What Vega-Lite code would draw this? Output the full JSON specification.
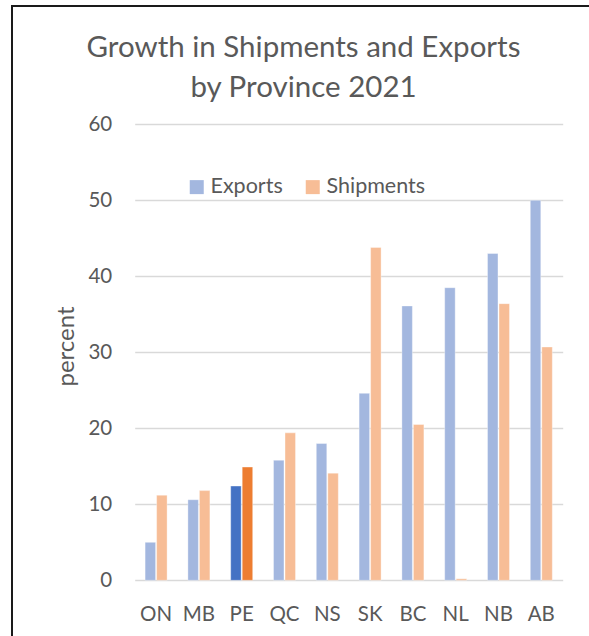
{
  "$schema": "https://vega.github.io/schema/vega-lite/v6.json",
  "autosize": {"type": "none"},
  "width": 583,
  "height": 640,
  "padding": {"left": 12, "top": 6, "right": -6, "bottom": -10},
  "background": "#ffffff",
  "config": {
    "font": "Lato",
    "view": {"stroke": "#1a1a1a", "strokeWidth": 2}
  },
  "title": {
    "text": ["Growth in Shipments and Exports", "by Province 2021"],
    "fontSize": 29.5,
    "fontWeight": "normal",
    "color": "#595959",
    "font": "Lato",
    "anchor": "middle",
    "frame": "group",
    "baseline": "top",
    "lineHeight": 40,
    "offset": -97
  },
  "data": {
    "values": [
      {"province": "ON", "series": "Exports", "value": 5.0},
      {"province": "ON", "series": "Shipments", "value": 11.2},
      {"province": "MB", "series": "Exports", "value": 10.6},
      {"province": "MB", "series": "Shipments", "value": 11.8},
      {"province": "PE", "series": "Exports", "value": 12.4},
      {"province": "PE", "series": "Shipments", "value": 14.9},
      {"province": "QC", "series": "Exports", "value": 15.8},
      {"province": "QC", "series": "Shipments", "value": 19.4},
      {"province": "NS", "series": "Exports", "value": 18.0},
      {"province": "NS", "series": "Shipments", "value": 14.1},
      {"province": "SK", "series": "Exports", "value": 24.6},
      {"province": "SK", "series": "Shipments", "value": 43.8},
      {"province": "BC", "series": "Exports", "value": 36.1},
      {"province": "BC", "series": "Shipments", "value": 20.5},
      {"province": "NL", "series": "Exports", "value": 38.5},
      {"province": "NL", "series": "Shipments", "value": 0.2},
      {"province": "NB", "series": "Exports", "value": 43.0},
      {"province": "NB", "series": "Shipments", "value": 36.4},
      {"province": "AB", "series": "Exports", "value": 50.0},
      {"province": "AB", "series": "Shipments", "value": 30.7}
    ]
  },
  "mark": {"type": "bar", "stroke": "#ffffff", "strokeWidth": 0.6, "strokeOpacity": 0.6},
  "encoding": {
    "x": {
      "field": "province",
      "type": "nominal",
      "sort": null,
      "scale": {"range": [122.7, 550.7], "paddingInner": 0.486, "paddingOuter": 0.243},
      "axis": {
        "title": null,
        "labelAngle": 0,
        "labelFontSize": 20.5,
        "labelColor": "#595959",
        "labelFont": "Lato",
        "labelPadding": 24,
        "ticks": false,
        "tickSize": 0,
        "domain": false,
        "grid": false,
        "offset": -65.7
      }
    },
    "xOffset": {
      "field": "series",
      "type": "nominal",
      "scale": {"paddingInner": 0.09, "paddingOuter": 0}
    },
    "y": {
      "field": "value",
      "type": "quantitative",
      "scale": {"domain": [0, 60], "range": [574.3, 118.3], "nice": false, "zero": true},
      "axis": {
        "title": "percent",
        "titleFontSize": 24,
        "titleFontWeight": "normal",
        "titleColor": "#595959",
        "titleFont": "Lato",
        "titlePadding": 9,
        "titleY": 340,
        "values": [0, 10, 20, 30, 40, 50, 60],
        "labelFontSize": 20.5,
        "labelColor": "#595959",
        "labelFont": "Lato",
        "labelPadding": 23,
        "ticks": false,
        "tickSize": 0,
        "domain": false,
        "grid": true,
        "gridColor": "#d9d9d9",
        "gridWidth": 1.5,
        "offset": -122.7
      }
    },
    "color": {
      "field": "series",
      "type": "nominal",
      "scale": {"domain": ["Exports", "Shipments"], "range": ["#a3b7df", "#f7bd96"]},
      "condition": [
        {"test": "datum.province === 'PE' && datum.series === 'Exports'", "value": "#4472c4"},
        {"test": "datum.province === 'PE' && datum.series === 'Shipments'", "value": "#ed7d31"}
      ],
      "legend": {
        "title": null,
        "orient": "none",
        "direction": "horizontal",
        "legendX": 174,
        "legendY": 170,
        "symbolType": "square",
        "symbolSize": 196,
        "symbolStrokeWidth": 0,
        "labelFontSize": 21.5,
        "labelColor": "#595959",
        "labelFont": "Lato",
        "labelOffset": 3,
        "columnPadding": 19
      }
    }
  }
}
